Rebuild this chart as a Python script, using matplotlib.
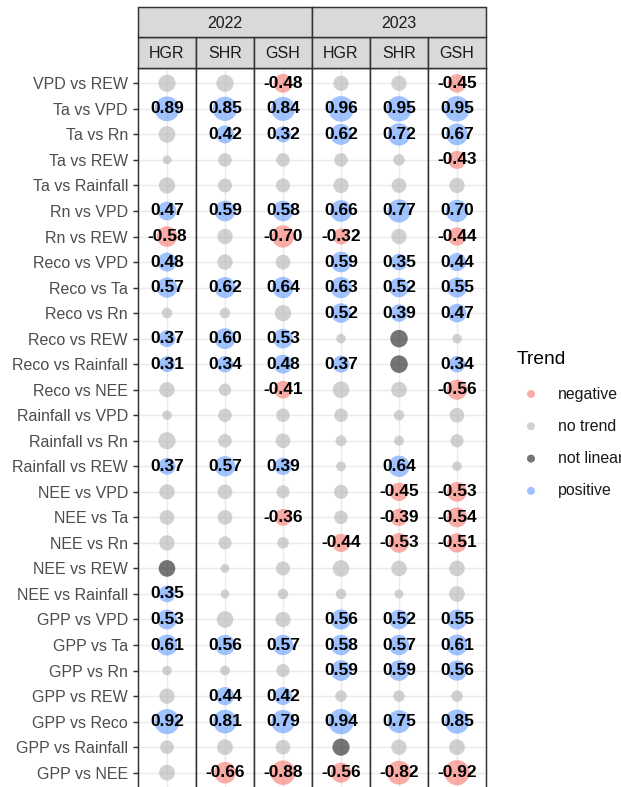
import numpy as np
import matplotlib
matplotlib.use("Agg")
import matplotlib.pyplot as plt
from matplotlib.patches import Rectangle

plt.rcParams['font.family'] = ['Liberation Sans', 'DejaVu Sans']

pairs = ["VPD vs REW", "Ta vs VPD", "Ta vs Rn", "Ta vs REW", "Ta vs Rainfall",
         "Rn vs VPD", "Rn vs REW", "Reco vs VPD", "Reco vs Ta", "Reco vs Rn",
         "Reco vs REW", "Reco vs Rainfall", "Reco vs NEE", "Rainfall vs VPD",
         "Rainfall vs Rn", "Rainfall vs REW", "NEE vs VPD", "NEE vs Ta", "NEE vs Rn",
         "NEE vs REW", "NEE vs Rainfall", "GPP vs VPD", "GPP vs Ta", "GPP vs Rn",
         "GPP vs REW", "GPP vs Reco", "GPP vs Rainfall", "GPP vs NEE"]
years = ["2022", "2023"]
sites = ["HGR", "SHR", "GSH"]

# trend code per pair: + positive, - negative, o no trend, x not linear
trend_2022_hgr = "o+ooo+-++o++ooo+ooox+++oo+oo"
trend_2022_shr = "o++oo+oo+o++ooo+oooooo+o++o-"
trend_2022_gsh = "-++oo+-o+o++-oo+o-oooo+o++o-"
trend_2023_hgr = "o++oo+-+++o+oooooo-oo+++o+x-"
trend_2023_shr = "o++oo+o+++xxooo+---oo+++o+o-"
trend_2023_gsh = "-++-o+-+++o+-ooo---oo+++o+o-"

# correlation coefficient (absolute value where no sign is shown)
r_2022_hgr = [0.38, 0.89, 0.35, 0.03, 0.33, 0.47, -0.58, 0.48, 0.57, 0.08, 0.37, 0.31, 0.28, 0.05,
              0.38, 0.37, 0.28, 0.25, 0.28, 0.35, 0.35, 0.53, 0.61, 0.05, 0.28, 0.92, 0.20, 0.30]
r_2022_shr = [0.38, 0.85, 0.42, 0.20, 0.22, 0.59, 0.28, 0.28, 0.62, 0.08, 0.60, 0.34, 0.15, 0.20,
              0.20, 0.57, 0.25, 0.25, 0.18, 0.03, 0.03, 0.35, 0.56, 0.06, 0.44, 0.81, 0.30, -0.66]
r_2022_gsh = [-0.48, 0.84, 0.32, 0.20, 0.22, 0.58, -0.70, 0.25, 0.64, 0.33, 0.53, 0.48, -0.41, 0.20,
              0.25, 0.39, 0.18, -0.36, 0.12, 0.22, 0.08, 0.28, 0.57, 0.18, 0.42, 0.79, 0.25, -0.88]
r_2023_hgr = [0.28, 0.96, 0.62, 0.20, 0.28, 0.66, -0.32, 0.59, 0.63, 0.52, 0.05, 0.37, 0.35, 0.20,
              0.10, 0.06, 0.22, 0.20, -0.44, 0.35, 0.08, 0.56, 0.58, 0.59, 0.12, 0.94, 0.38, -0.56]
r_2023_shr = [0.28, 0.95, 0.72, 0.12, 0.25, 0.77, 0.28, 0.35, 0.52, 0.39, 0.40, 0.40, 0.30, 0.08,
              0.06, 0.64, -0.45, -0.39, -0.53, 0.30, 0.03, 0.52, 0.57, 0.59, 0.12, 0.75, 0.28, -0.82]
r_2023_gsh = [-0.45, 0.95, 0.67, -0.43, 0.28, 0.70, -0.44, 0.44, 0.55, 0.47, 0.05, 0.34, -0.56, 0.25,
              0.18, 0.05, -0.53, -0.54, -0.51, 0.30, 0.30, 0.55, 0.61, 0.56, 0.12, 0.85, 0.30, -0.92]

trend_colors = {"-": "#F8766D", "o": "#B3B3B3", "x": "#1A1A1A", "+": "#619CFF"}
trend_names = {"-": "negative", "o": "no trend", "x": "not linear", "+": "positive"}


def dot_area(r):
    # marker area in pt^2, area grows linearly with |r|
    d_px = np.sqrt(60 + 620 * np.abs(np.asarray(r)))
    return (d_px * 0.72) ** 2


W, H = 621, 787
fig = plt.figure(figsize=(W / 100, H / 100), dpi=100)

panel_top, panel_bot = 68, 788
panel_w = 58
x0 = 138
dark = "#333333"
lw = 1.07

r_cols = [r_2022_hgr, r_2022_shr, r_2022_gsh, r_2023_hgr, r_2023_shr, r_2023_gsh]
t_cols = [trend_2022_hgr, trend_2022_shr, trend_2022_gsh,
          trend_2023_hgr, trend_2023_shr, trend_2023_gsh]

rows = np.arange(1, len(pairs) + 1)

# overlay for strips and legend, in pixel coordinates
ov = fig.add_axes([0, 0, 1, 1], zorder=5)
ov.set_xlim(0, W)
ov.set_ylim(H, 0)
ov.axis("off")
ov.patch.set_alpha(0)

for i, (r, t) in enumerate(zip(r_cols, t_cols)):
    left = x0 + i * panel_w
    ax = fig.add_axes([left / W, 1 - panel_bot / H, panel_w / W, (panel_bot - panel_top) / H])
    ax.set_xlim(-0.6, 0.6)
    ax.set_ylim(len(pairs) + 0.6, 0.4)
    ax.set_xticks([0])
    ax.set_yticks(rows)
    ax.grid(True, color="#EBEBEB", linewidth=lw, zorder=0)
    ax.set_axisbelow(True)
    for sp in ax.spines.values():
        sp.set_color(dark)
        sp.set_linewidth(lw)
    ax.tick_params(axis="x", length=0, labelbottom=False)
    if i == 0:
        ax.set_yticklabels(pairs, fontsize=11.5, color="#4D4D4D")
        ax.tick_params(axis="y", length=3.6, width=lw, color=dark, pad=3.6)
    else:
        ax.tick_params(axis="y", length=0, labelleft=False)

    cols = [trend_colors[c] for c in t]
    ax.scatter(np.zeros(len(rows)), rows, s=dot_area(r), c=cols, alpha=0.6,
               edgecolors="none", zorder=3)
    for y, v, c in zip(rows, r, t):
        if c in "+-":
            ax.text(0, y, f"{v:.2f}", ha="center", va="center", fontsize=12.5,
                    fontweight="bold", color="black", zorder=4)

    # site strip
    ov.add_patch(Rectangle((left, 37), panel_w, panel_top - 37, facecolor="#D9D9D9",
                           edgecolor=dark, linewidth=lw))
    ov.text(left + panel_w / 2, (37 + panel_top) / 2 + 1, sites[i % 3], ha="center",
            va="center", fontsize=11.5, color="#1A1A1A")

for j, yr in enumerate(years):
    left = x0 + j * 3 * panel_w
    ov.add_patch(Rectangle((left, 7), 3 * panel_w, 30, facecolor="#D9D9D9",
                           edgecolor=dark, linewidth=lw))
    ov.text(left + 1.5 * panel_w, 23, yr, ha="center", va="center", fontsize=11.5,
            color="#1A1A1A")

# legend
ov.text(517, 360, "Trend", ha="left", va="center", fontsize=13.8, color="black")
for k, code in enumerate(["-", "o", "x", "+"]):
    y = 394 + k * 32.3
    ov.scatter([531], [y], s=(8 * 0.72) ** 2, color=trend_colors[code], alpha=0.6,
               edgecolors="none")
    ov.text(558, y, trend_names[code], ha="left", va="center", fontsize=11.4,
            color="#1A1A1A")

fig.savefig("out.png", dpi=100)
